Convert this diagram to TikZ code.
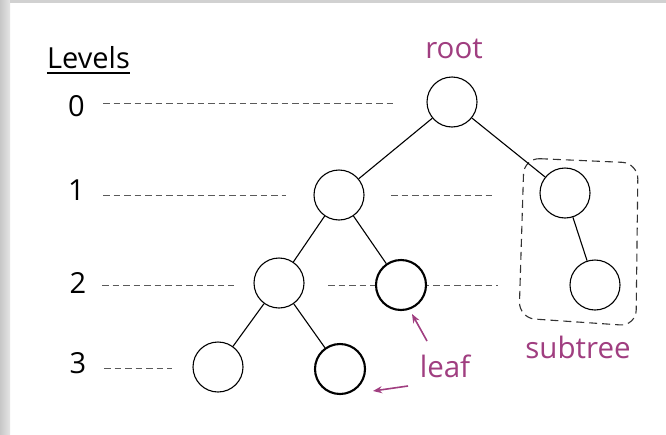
\documentclass[tikz,border=0pt]{standalone}
\usepackage{fontspec}
\setmainfont{Open Sans}
\usetikzlibrary{arrows.meta}
\definecolor{accent}{RGB}{160,62,128}
\definecolor{guide}{RGB}{90,90,90}
\tikzset{
  vertex/.style={circle, draw=black, line width=1.1pt, fill=white, minimum size=50pt, inner sep=0pt},
  leafvertex/.style={vertex, line width=2.1pt},
  edge/.style={line width=1.1pt},
  levelguide/.style={draw=guide, line width=0.9pt, dash pattern=on 6.5pt off 4pt},
  grouping/.style={draw=black!80, line width=1.1pt, dash pattern=on 8pt off 5pt, rounded corners=16pt},
  leveltext/.style={font=\fontsize{29}{31}\selectfont, text=black, inner sep=0pt, anchor=base},
  tag/.style={font=\fontsize{29.5}{31}\selectfont, text=accent, inner sep=0pt, anchor=base},
  pointer/.style={draw=accent, line width=1.6pt, -{Stealth[length=9pt,width=7pt]}},
}
\begin{document}
\begin{tikzpicture}[x=1pt, y=-1pt]
  % page and its shaded frame edges
  \useasboundingbox (0,0) rectangle (666,434);
  \fill[white] (0,0) rectangle (666,434);
  \shade[left color=black!22, right color=black!10] (0,0) rectangle (10,434);
  \fill[black!18] (10,0) rectangle (666,3);

  % level guides (drawn first so the nodes sit on top)
  \draw[levelguide] (103,103) -- (395,103);
  \draw[levelguide] (103,195) -- (286,195);
  \draw[levelguide] (391,195) -- (493,195);
  \draw[levelguide] (102,285) -- (234,285);
  \draw[levelguide] (328,285) -- (498,285);
  \draw[levelguide] (104,368) -- (172,368);

  % level labels
  \node[leveltext] (levels) at (88.5,68) {Levels};
  \draw[line width=2.3pt] ([yshift=-5pt]levels.base west) -- ([yshift=-5pt]levels.base east);
  \node[leveltext] (l0) at (76.5,116) {0};
  \node[leveltext] (l1) at (76.5,200) {1};
  \node[leveltext] (l2) at (78,293) {2};
  \node[leveltext] (l3) at (78,373) {3};

  % subtree outline
  \draw[grouping] (524,158) -- (638,163) -- (636,326) -- (519,318) -- cycle;

  % tree nodes
  \node[vertex] (root) at (452,102) {};
  \node[vertex] (a) at (339,195) {};
  \node[vertex] (b) at (565,193) {};
  \node[vertex] (c) at (279,283) {};
  \node[leafvertex] (d) at (401,285) {};
  \node[vertex] (e) at (595,285) {};
  \node[vertex] (f) at (218,367) {};
  \node[leafvertex] (g) at (340,369) {};

  % tree edges
  \draw[edge] (root) -- (a);
  \draw[edge] (root) -- (b);
  \draw[edge] (a) -- (c);
  \draw[edge] (a) -- (d);
  \draw[edge] (c) -- (f);
  \draw[edge] (c) -- (g);
  \draw[edge] (b) -- (e);

  % annotations
  \node[tag] (rootlbl) at (454,58) {root};
  \node[tag] (leaflbl) at (445,377) {leaf};
  \node[tag] (sublbl) at (578,358) {subtree};
  \coordinate (p1) at (427,341);
  \coordinate (t1) at (412,314);
  \coordinate (p2) at (408,386);
  \coordinate (t2) at (373,391);
  \draw[pointer] (p1) -- (t1);
  \draw[pointer] (p2) -- (t2);
\end{tikzpicture}
\end{document}
